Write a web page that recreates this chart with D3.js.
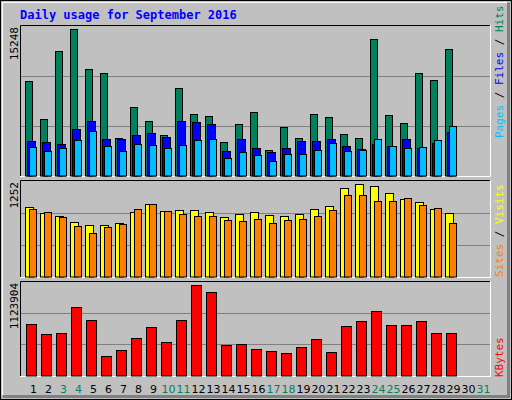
<!DOCTYPE html>
<html><head><meta charset="utf-8">
<script src="https://cdn.jsdelivr.net/npm/d3@7"></script>
<style>body{margin:0;background:#fff}svg{display:block}</style>
</head><body><svg id="chart" width="512" height="400"></svg>
<script>
const days = d3.range(1, 32)
const weekend = [3, 4, 10, 11, 17, 18, 24, 25, 31]

const hits = [9852, 5911, 12963, 15248, 11096, 10681, 3941, 7155, 5704, 4252, 9126, 6429, 6222, 3526, 5392, 6637, 2696, 5081, 3941, 6429, 6118, 4355, 3941, 14207, 6326, 5496, 10681, 9955, 13170]
const files = [3630, 3526, 3318, 4874, 5704, 3837, 3837, 4252, 4459, 4044, 5704, 5600, 5392, 2593, 3837, 2904, 2489, 2904, 3630, 3630, 3837, 3111, 2800, 3318, 3111, 3837, 2904, 3422, 4563]
const pages = [3007, 2593, 2904, 3733, 4667, 3111, 2593, 3318, 3215, 2904, 3215, 3733, 3837, 1867, 2489, 2178, 1556, 2281, 2281, 2696, 3422, 2593, 2696, 3837, 3111, 2904, 3007, 3733, 5185]
const visits = [940, 859, 818, 737, 696, 696, 723, 872, 981, 886, 899, 899, 872, 805, 845, 872, 832, 818, 845, 913, 954, 1198, 1252, 1225, 1130, 1049, 1008, 913, 859]
const sites = [913, 872, 805, 683, 588, 669, 710, 913, 981, 886, 845, 818, 818, 764, 750, 777, 723, 764, 777, 818, 899, 1103, 1103, 1022, 1022, 1062, 967, 927, 723]
const kbytes = [643983, 520929, 533234, 853174, 693204, 237904, 311737, 471707, 607066, 410180, 693204, 1123904, 1037755, 373264, 385569, 324042, 299431, 274820, 348653, 447096, 287126, 619372, 680899, 803953, 631677, 631677, 680899, 533234, 533234]

const svg = d3.select('#chart')
const mono = 'DejaVu Sans Mono, monospace'

// frame
svg.append('rect').attr('width', 512).attr('height', 400).attr('fill', '#c0c0c0')
svg.append('rect').attr('x', 0.5).attr('y', 0.5).attr('width', 511).attr('height', 399).attr('fill', 'none').attr('stroke', '#000')
svg.append('path').attr('d', 'M2.5,396V2.5H508').attr('fill', 'none').attr('stroke', '#fff')
svg.append('path').attr('d', 'M2.5,396.5H508.5V2.5').attr('fill', 'none').attr('stroke', '#808080').attr('stroke-width', 3)

svg.append('text').attr('x', 20).attr('y', 19).attr('fill', '#0000ff')
	.style('font', 'bold 12px ' + mono).text('Daily usage for September 2016')

const x = d3.scaleBand().domain(days).range([24, 489]).paddingInner(0).paddingOuter(0)

const panels = [
	{ top: 25, bottom: 177, max: 15248, label: '15248',
		series: [{ data: hits, color: '#00805c', off: 1, w: 7 }, { data: files, color: '#0000ff', off: 3, w: 8 }, { data: pages, color: '#00c0ff', off: 5, w: 7 }],
		names: [['Pages', '#00c0ff'], [' / ', '#000'], ['Files', '#0000ff'], [' / ', '#000'], ['Hits', '#00805c']], lab: 138 },
	{ top: 180, bottom: 278, max: 1252, label: '1252',
		series: [{ data: visits, color: '#ffff00', off: 1, w: 8 }, { data: sites, color: '#ff8000', off: 5, w: 7 }],
		names: [['Sites', '#ff8000'], [' / ', '#000'], ['Visits', '#ffff00']], lab: 277 },
	{ top: 281, bottom: 377, max: 1123904, label: '1123904',
		series: [{ data: kbytes, color: '#ff0000', off: 2, w: 10 }],
		names: [['KBytes', '#ff0000']], lab: 377 }
]

panels.forEach(p => {
	const g = svg.append('g')
	g.append('rect').attr('x', 20).attr('y', p.top).attr('width', 471).attr('height', p.bottom - p.top).attr('fill', '#c0c0c0')
	g.append('path').attr('d', `M20.5,${p.bottom}V${p.top + 0.5}H491`).attr('fill', 'none').attr('stroke', '#000')
	g.append('path').attr('d', `M20,${p.bottom - 0.5}H490.5V${p.top}`).attr('fill', 'none').attr('stroke', '#fff')

	const base = p.bottom - 1.5
	const y = d3.scaleLinear().domain([0, p.max]).range([base, p.top + 4])
	const h = base - (p.top + 1)
	;[1, 2].forEach(k => g.append('line').attr('x1', 21).attr('x2', 490)
		.attr('y1', Math.round(base - h * k / 3) + 0.5).attr('y2', Math.round(base - h * k / 3) + 0.5).attr('stroke', '#808080'))

	p.series.forEach(s => {
		g.selectAll(null).data(s.data).enter().append('rect')
			.attr('x', (d, i) => x(days[i]) + s.off + 0.5)
			.attr('y', d => Math.round(y(d)) + 0.5)
			.attr('width', s.w)
			.attr('height', d => base - Math.round(y(d)))
			.attr('fill', s.color).attr('stroke', '#000')
	})

	g.append('text').attr('transform', `translate(18,${p.top + 2}) rotate(-90)`)
		.attr('text-anchor', 'end').style('font', '11px ' + mono).attr('fill', '#000').text(p.label)

	const t = g.append('text').attr('transform', `translate(503,${p.lab}) rotate(-90)`)
		.style('font', '11px ' + mono)
	p.names.forEach(n => t.append('tspan').attr('fill', n[1]).text(n[0]))
})

svg.selectAll('.day').data(days).enter().append('text')
	.attr('x', d => x(d) + x.bandwidth() / 2 + 2).attr('y', 393)
	.attr('text-anchor', 'middle').style('font', '11px DejaVu Sans, sans-serif')
	.attr('fill', d => weekend.includes(d) ? '#00805c' : '#000').text(d => d)
</script></body></html>
